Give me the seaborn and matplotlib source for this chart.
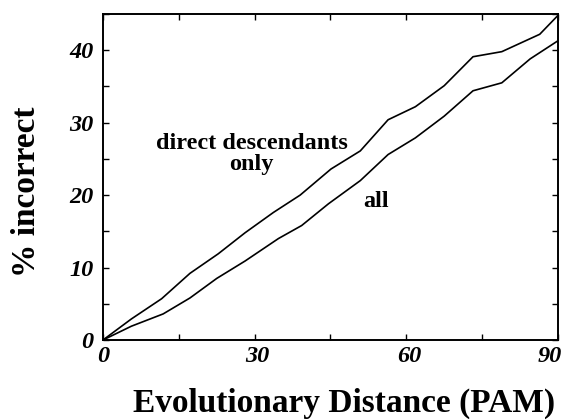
import numpy as np
import pandas as pd
import matplotlib
matplotlib.use("Agg")
import matplotlib.pyplot as plt
import matplotlib.transforms as mtransforms
import seaborn as sns

# Data
x_direct = [0, 5.6, 11.6, 17.2, 22.8, 28.1, 33.7, 39.0, 45.1, 50.9, 56.4, 61.8, 67.5, 73.2, 78.9, 86.4, 90]
y_direct = [0, 2.9, 5.7, 9.2, 11.9, 14.8, 17.6, 20.0, 23.6, 26.1, 30.4, 32.2, 35.1, 39.1, 39.8, 42.2, 44.8]
x_all = [0, 5.6, 11.9, 17.2, 22.5, 28.1, 34.7, 39.3, 44.6, 50.9, 56.4, 61.8, 67.5, 73.2, 78.9, 84.5, 90]
y_all = [0, 1.9, 3.6, 5.8, 8.5, 10.9, 14.0, 15.8, 18.8, 22.0, 25.6, 27.9, 30.9, 34.4, 35.5, 38.8, 41.3]
series_names = ["direct descendants only", "all"]
x_ticks = [0, 15, 30, 45, 60, 75, 90]
x_labels = ["0", "", "30", "", "60", "", "90"]
y_ticks = [0, 5, 10, 15, 20, 25, 30, 35, 40, 45]
y_labels = ["0", "", "10", "", "20", "", "30", "", "40", ""]

df = pd.DataFrame({
    "x": x_direct + x_all,
    "y": y_direct + y_all,
    "series": [series_names[0]] * len(x_direct) + [series_names[1]] * len(x_all),
})

sns.set_theme(style="ticks")
plt.rcParams["font.family"] = ["Liberation Serif", "DejaVu Serif"]
plt.rcParams.update({"text.color": "black", "axes.labelcolor": "black",
                     "xtick.color": "black", "ytick.color": "black",
                     "axes.edgecolor": "black"})

fig = plt.figure(figsize=(5.67, 4.20), dpi=100)
ax = fig.add_axes([0.1817, 0.1905, 0.8023, 0.7762])

sns.lineplot(data=df, x="x", y="y", hue="series",
             palette={series_names[0]: "black", series_names[1]: "black"},
             estimator=None, sort=False, legend=False, linewidth=1.2, ax=ax)

ax.set_xlim(0, 90)
ax.set_ylim(0, 45)
ax.set_xticks(x_ticks)
ax.set_xticklabels(x_labels)
ax.set_yticks(y_ticks)
ax.set_yticklabels(y_labels)

for s in ax.spines.values():
    s.set_visible(True)
    s.set_linewidth(1.4)
    s.set_color("black")

ax.tick_params(axis="both", direction="in", length=4, width=1.0, color="black",
               labelcolor="black", top=True, right=True, labelsize=17.5)
ax.tick_params(axis="x", pad=4)
ax.tick_params(axis="y", pad=7)
for lab in ax.get_xticklabels() + ax.get_yticklabels():
    lab.set_fontweight("bold")
    lab.set_fontstyle("italic")

xl = ax.get_xticklabels()
shifts = {"30": 3, "60": 3, "90": -8}
for lab in xl:
    dx = shifts.get(lab.get_text(), 0)
    if dx:
        lab.set_transform(lab.get_transform() +
                          mtransforms.ScaledTranslation(dx / 100, 0, fig.dpi_scale_trans))

ax.set_xlabel("Evolutionary Distance (PAM)", fontsize=24, fontweight="bold",
              va="baseline", color="black")
ax.xaxis.set_label_coords(0.53, -0.221)
ax.set_ylabel("% incorrect", fontsize=24, fontweight="bold", va="center", color="black")
ax.yaxis.set_label_coords(-0.168, 0.454)

ax.text(29.4, 26.3, "direct descendants", ha="center", va="baseline",
        fontsize=17.5, fontweight="bold", color="black")
ax.text(29.4, 23.4, "only", ha="center", va="baseline",
        fontsize=17.5, fontweight="bold", color="black")
ax.text(54.1, 18.3, "all", ha="center", va="baseline", fontsize=17.5,
        fontweight="bold", color="black")

fig.savefig("out.png", dpi=100, facecolor="white")
